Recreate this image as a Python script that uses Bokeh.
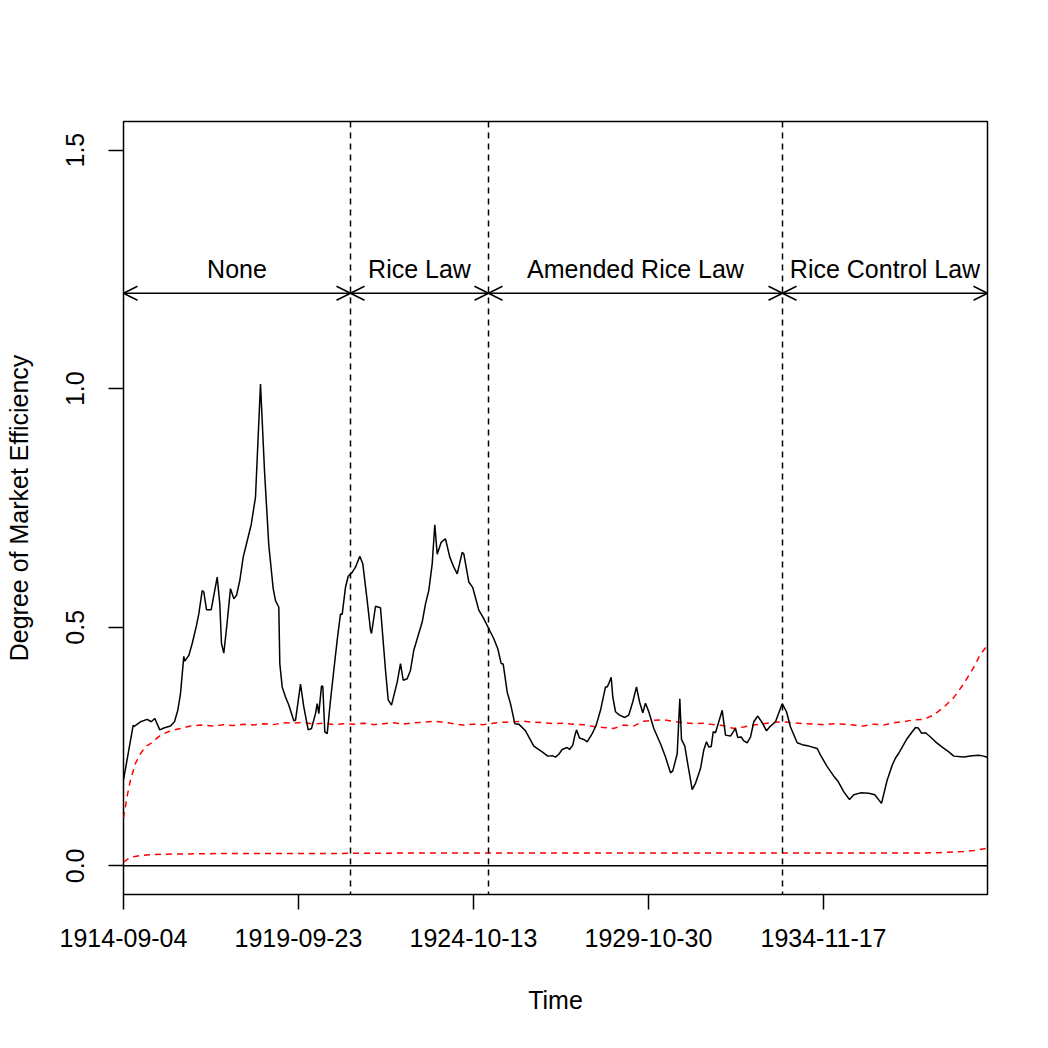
from bokeh.plotting import figure
from bokeh.models import Range1d, FixedTicker, Span, Arrow, OpenHead, Label, NumeralTickFormatter
from bokeh.embed import file_html
from bokeh.resources import INLINE

FONT = "Liberation Sans"

# observation index (ticks every 175 observations)
tick_pos = [0, 175, 350, 525, 700]
tick_labels = ["1914-09-04", "1919-09-23", "1924-10-13", "1929-10-30", "1934-11-17"]
x_end = 864

# regime boundaries (observation index)
regime_breaks = [227, 365, 659]
regime_names = ["None", "Rice Law", "Amended Rice Law", "Rice Control Law"]
arrow_level = 1.2
label_level = 1.25

# degree of market efficiency (black line)
eff_x = [0, 9.7, 10.3, 17, 23.7, 27.7, 31.3, 36.3, 40.3, 47, 51, 54.3, 57, 60.3, 61.3, 65.3, 68.7, 73, 75.3,
         78.7, 80.3, 83, 87.7, 93.7, 96.3, 98, 100.3, 103, 107, 110.3, 113, 116.3, 119.7, 123, 127.7, 132,
         137, 141, 145.3, 149.7, 152, 155.3, 156.3, 158.7, 162, 165.3, 170.3, 172, 177, 180.3, 184.7, 188,
         192, 193.7, 195.3, 198, 199.3, 201.3, 203.7, 207, 210.3, 213.7, 217, 218.7, 222, 224.7, 228.7, 232,
         236.3, 239.3, 243.7, 247, 248, 252, 257, 262, 264.7, 268, 273.7, 277, 279.7, 283.7, 287, 290.3,
         293.7, 298.7, 302, 305.3, 308.7, 311.3, 313.7, 317.7, 320.3, 322, 326.3, 330.3, 333.7, 338.7, 340.3,
         345.3, 349.3, 355.3, 360.3, 365.3, 370.3, 374.3, 377.7, 379.7, 383.7, 387, 391.3, 395.3, 402, 410.3,
         418.7, 424.3, 428.7, 432, 435.3, 438.7, 443.7, 446, 449.3, 451, 453, 456, 460.3, 463.7, 468.7, 472.7,
         477, 482, 483.7, 485.3, 487.7, 489.3, 492, 496, 501.3, 505.3, 509.3, 513, 516, 519.3, 522, 525.3,
         530.3, 537, 542, 547, 549.3, 553.7, 556.3, 558, 561.3, 564.7, 568.7, 572, 577, 580.3, 583, 585.3,
         587.7, 589.7, 592, 595.3, 598.7, 602, 607, 612, 614.3, 617.7, 620.3, 623.7, 627, 630.3, 634.3, 638.7,
         643, 647, 652, 658.7, 663, 667, 673.7, 678.7, 685.3, 693.7, 697, 703.7, 710.3, 714.3, 720.3, 726,
         730.3, 737, 745.3, 751.3, 758, 763.7, 768.7, 772, 775.3, 778.7, 783.7, 788.7, 792, 794.7, 798, 802,
         807, 812, 818.7, 825.3, 830.3, 840.3, 848.7, 855.3, 860.3, 864]
eff_y = [0.18, 0.295, 0.292, 0.302, 0.307, 0.302, 0.309, 0.285, 0.289, 0.293, 0.302, 0.326, 0.361, 0.439, 0.429,
         0.441, 0.466, 0.504, 0.528, 0.577, 0.574, 0.537, 0.537, 0.605, 0.549, 0.466, 0.446, 0.497, 0.581, 0.560,
         0.567, 0.598, 0.647, 0.675, 0.715, 0.773, 1.010, 0.828, 0.672, 0.581, 0.556, 0.542, 0.424, 0.375, 0.354,
         0.337, 0.304, 0.305, 0.381, 0.333, 0.285, 0.288, 0.319, 0.340, 0.319, 0.377, 0.376, 0.281, 0.277, 0.347,
         0.410, 0.473, 0.528, 0.527, 0.584, 0.607, 0.615, 0.626, 0.649, 0.633, 0.556, 0.494, 0.487, 0.544, 0.541,
         0.410, 0.348, 0.337, 0.385, 0.424, 0.389, 0.392, 0.410, 0.452, 0.476, 0.511, 0.549, 0.577, 0.633, 0.715,
         0.653, 0.678, 0.683, 0.685, 0.647, 0.626, 0.612, 0.657, 0.654, 0.595, 0.583, 0.536, 0.518, 0.497, 0.476,
         0.455, 0.424, 0.423, 0.364, 0.340, 0.298, 0.297, 0.283, 0.251, 0.239, 0.230, 0.231, 0.228, 0.234, 0.244,
         0.248, 0.244, 0.253, 0.270, 0.285, 0.268, 0.265, 0.260, 0.277, 0.295, 0.326, 0.375, 0.375, 0.382, 0.395,
         0.354, 0.323, 0.316, 0.311, 0.316, 0.344, 0.375, 0.344, 0.321, 0.341, 0.323, 0.288, 0.256, 0.228, 0.195,
         0.199, 0.235, 0.350, 0.265, 0.251, 0.208, 0.160, 0.173, 0.204, 0.243, 0.260, 0.249, 0.250, 0.281, 0.279,
         0.302, 0.326, 0.274, 0.272, 0.288, 0.269, 0.270, 0.262, 0.258, 0.270, 0.302, 0.314, 0.300, 0.283, 0.293,
         0.302, 0.340, 0.323, 0.291, 0.258, 0.254, 0.251, 0.246, 0.232, 0.208, 0.188, 0.178, 0.155, 0.139, 0.149,
         0.153, 0.152, 0.149, 0.131, 0.180, 0.211, 0.226, 0.236, 0.249, 0.267, 0.281, 0.290, 0.289, 0.278, 0.279,
         0.270, 0.260, 0.249, 0.239, 0.230, 0.228, 0.231, 0.232, 0.230, 0.227]

# upper critical band (red dashed)
upper_x = [0, 4, 7, 12, 17, 22, 27, 32, 37, 47, 57, 67, 77, 90, 100, 110, 120, 130, 140, 150, 160, 170, 180,
           190, 200, 210, 220, 230, 240, 250, 260, 270, 280, 290, 300, 310, 320, 330, 340, 350, 360, 370, 380,
           390, 400, 410, 420, 430, 440, 450, 460, 470, 480, 490, 500, 510, 520, 530, 540, 550, 560, 570, 580,
           590, 600, 610, 620, 630, 640, 650, 660, 670, 680, 690, 700, 710, 720, 730, 740, 750, 760, 770, 780,
           790, 800, 810, 820, 830, 840, 850, 856, 864]
upper_y = [0.10, 0.15, 0.18, 0.215, 0.235, 0.25, 0.256, 0.265, 0.274, 0.283, 0.288, 0.293, 0.295, 0.293, 0.296,
           0.294, 0.297, 0.295, 0.298, 0.296, 0.300, 0.299, 0.301, 0.297, 0.299, 0.296, 0.298, 0.297, 0.299,
           0.296, 0.298, 0.300, 0.297, 0.300, 0.301, 0.303, 0.301, 0.298, 0.295, 0.297, 0.296, 0.299, 0.301,
           0.302, 0.303, 0.301, 0.300, 0.298, 0.299, 0.297, 0.296, 0.292, 0.290, 0.288, 0.295, 0.293, 0.303,
           0.305, 0.306, 0.303, 0.300, 0.298, 0.299, 0.296, 0.294, 0.288, 0.291, 0.295, 0.298, 0.301, 0.302,
           0.300, 0.298, 0.297, 0.296, 0.298, 0.297, 0.295, 0.293, 0.297, 0.295, 0.300, 0.302, 0.306, 0.307,
           0.316, 0.332, 0.352, 0.381, 0.415, 0.440, 0.463]

# lower critical band (red dashed)
lower_x = [0, 5, 10, 18, 30, 60, 100, 200, 300, 400, 500, 600, 700, 800, 820, 840, 850, 864]
lower_y = [0.008, 0.015, 0.019, 0.022, 0.024, 0.025, 0.026, 0.026, 0.027, 0.027, 0.027, 0.027, 0.027, 0.027,
           0.028, 0.030, 0.032, 0.037]

p = figure(width=1048, height=1048, output_backend="svg", toolbar_location=None,
           x_range=Range1d(0, x_end), y_range=Range1d(-0.06, 1.56),
           min_border_left=123, min_border_right=61, min_border_top=121, min_border_bottom=154,
           x_axis_label="Time", y_axis_label="Degree of Market Efficiency")
p.grid.visible = False
p.outline_line_color = "black"
p.outline_line_width = 1.5
p.background_fill_color = "white"
p.border_fill_color = "white"

for ax in (p.xaxis[0], p.yaxis[0]):
    ax.axis_line_color = None
    ax.major_tick_in = 0
    ax.major_tick_out = 15
    ax.major_tick_line_width = 1.5
    ax.minor_tick_line_color = None
    ax.major_label_text_font = FONT
    ax.major_label_text_font_size = "25px"
    ax.major_label_text_color = "black"
    ax.axis_label_text_font = FONT
    ax.axis_label_text_font_size = "25px"
    ax.axis_label_text_font_style = "normal"
    ax.axis_label_text_color = "black"

p.xaxis.ticker = FixedTicker(ticks=tick_pos)
p.xaxis.major_label_overrides = {t: l for t, l in zip(tick_pos, tick_labels)}
p.xaxis.major_label_standoff = 19
p.xaxis.axis_label_standoff = 36

p.yaxis.ticker = FixedTicker(ticks=[0, 0.5, 1.0, 1.5])
p.yaxis.formatter = NumeralTickFormatter(format="0.0")
p.yaxis.major_label_orientation = "vertical"
p.yaxis.major_label_standoff = 24
p.yaxis.axis_label_standoff = 31

p.add_layout(Span(location=0, dimension="width", line_color="black", line_width=1.5))
for b in regime_breaks:
    p.add_layout(Span(location=b, dimension="height", line_color="black", line_width=1.5, line_dash="6 5"))

p.line(lower_x, lower_y, line_color="red", line_width=1.5, line_dash="6 5")
p.line(upper_x, upper_y, line_color="red", line_width=1.5, line_dash="6 5")
p.line(eff_x, eff_y, line_color="black", line_width=1.5)

edges = [0] + regime_breaks + [x_end]
for i, name in enumerate(regime_names):
    a, b = edges[i], edges[i + 1]
    p.add_layout(Arrow(x_start=a, y_start=arrow_level, x_end=b, y_end=arrow_level,
                       line_color="black", line_width=1.5,
                       start=OpenHead(size=14, line_color="black", line_width=1.5),
                       end=OpenHead(size=14, line_color="black", line_width=1.5)))
    p.add_layout(Label(x=(a + b) / 2, y=label_level, text=name, text_font=FONT, text_font_size="25px",
                       text_align="center", text_baseline="middle", text_color="black"))

open("out.html", "w").write(file_html(p, INLINE))
